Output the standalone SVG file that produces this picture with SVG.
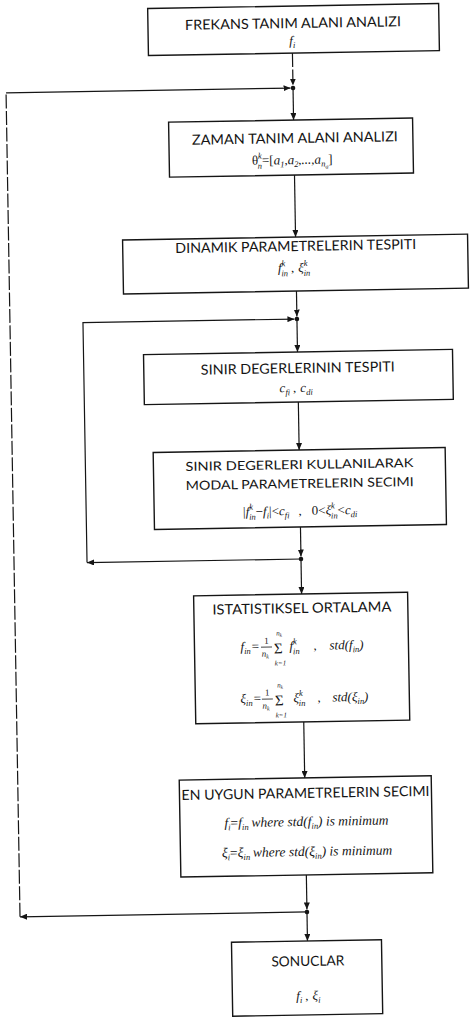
<svg xmlns="http://www.w3.org/2000/svg" width="470" height="1018" viewBox="0 0 470 1018">
<style>
.box{fill:#fff;stroke:#151515;stroke-width:1.4}
.t{font-family:Lato,"Liberation Sans",sans-serif;font-size:14px;fill:#151515;text-anchor:middle}
.t2{font-size:12.5px}
.m{font-family:"Liberation Serif",serif;font-style:italic;font-size:13px;fill:#151515}
.c{text-anchor:middle}
.s{font-size:8.5px}
.ss{font-size:6px}
.u{font-style:normal}
.ln{fill:none;stroke:#151515;stroke-width:1.2}
.dash{stroke-dasharray:14 2.5}
.dot{fill:#151515}
.bar{stroke:#151515;stroke-width:0.8}
</style>
<defs>
<marker id="ah" viewBox="0 0 7 6" refX="7" refY="3" markerWidth="7" markerHeight="6" markerUnits="userSpaceOnUse" orient="auto"><path d="M0,0 L7,3 L0,6 z" fill="#151515"/></marker>
</defs>
<rect width="470" height="1018" fill="#fff"/>
<g transform="rotate(-0.97 300 500)">
<g id="connectors">
<path class="ln dash" d="M300,53 V85.5" marker-end="url(#ah)"/>
<path class="ln" d="M300,88 V120" marker-end="url(#ah)"/>
<path class="ln" d="M300,175 V237" marker-end="url(#ah)"/>
<path class="ln" d="M300,291 V316.5" marker-end="url(#ah)"/>
<path class="ln" d="M300,319 V352" marker-end="url(#ah)"/>
<path class="ln" d="M300,402 V450" marker-end="url(#ah)"/>
<path class="ln" d="M300,527 V556.5" marker-end="url(#ah)"/>
<path class="ln" d="M300,559 V594" marker-end="url(#ah)"/>
<path class="ln" d="M300,722 V778" marker-end="url(#ah)"/>
<path class="ln" d="M300,875 V909.5" marker-end="url(#ah)"/>
<path class="ln" d="M300,912 V941" marker-end="url(#ah)"/>
<path class="ln" d="M300,912 H13" marker-end="url(#ah)"/>
<path class="ln dash" d="M13,912 V88"/>
<path class="ln" d="M13,88 H297.5" marker-end="url(#ah)"/>
<path class="ln" d="M300,559 H86" marker-end="url(#ah)"/>
<path class="ln" d="M86,559 V319 H297.5" marker-end="url(#ah)"/>
<circle class="dot" cx="300" cy="88" r="2.3"/>
<circle class="dot" cx="300" cy="319" r="2.3"/>
<circle class="dot" cx="300" cy="559" r="2.3"/>
<circle class="dot" cx="300" cy="912" r="2.3"/>
</g>
<g id="n1">
<rect class="box" x="156" y="6" width="291" height="47"/>
<text class="t" x="301" y="28" textLength="216" lengthAdjust="spacingAndGlyphs">FREKANS TANIM ALANI ANALIZI</text>
<text class="m c" x="300" y="45">f<tspan class="s" dy="3">i</tspan></text>
</g>
<g id="n2">
<rect class="box" x="175" y="120" width="244" height="55"/>
<text class="t" x="301" y="143" textLength="206" lengthAdjust="spacingAndGlyphs">ZAMAN TANIM ALANI ANALIZI</text>
<text class="m c" x="298" y="164"><tspan class="u">θ</tspan><tspan class="s" dy="-6">k</tspan><tspan class="s" dx="-4.2" dy="10">n</tspan><tspan class="u" dy="-4">=[</tspan>a<tspan class="s" dy="3">1</tspan><tspan dy="-3">,</tspan>a<tspan class="s" dy="3">2</tspan><tspan dy="-3">,...,</tspan>a<tspan class="s" dy="3">n</tspan><tspan class="ss" dy="2">a</tspan><tspan class="u" dy="-5">]</tspan></text>
</g>
<g id="n3">
<rect class="box" x="127" y="237" width="345" height="54"/>
<text class="t" x="300" y="251" textLength="241" lengthAdjust="spacingAndGlyphs">DINAMIK PARAMETRELERIN TESPITI</text>
<text class="m c" x="298" y="272">f<tspan class="s" dy="-6">k</tspan><tspan class="s" dx="-4" dy="10">in</tspan><tspan class="u" dy="-4" dx="3">,</tspan><tspan dx="4">ξ</tspan><tspan class="s" dy="-6">k</tspan><tspan class="s" dx="-4" dy="10">in</tspan></text>
</g>
<g id="n4">
<rect class="box" x="146" y="352" width="309" height="50"/>
<text class="t" x="300" y="373" textLength="194" lengthAdjust="spacingAndGlyphs">SINIR DEGERLERININ TESPITI</text>
<text class="m c" x="298" y="392">c<tspan class="s" dy="3">fi</tspan><tspan class="u" dy="-3" dx="3">,</tspan><tspan dx="4">c</tspan><tspan class="s" dy="3">di</tspan></text>
</g>
<g id="n5">
<rect class="box" x="154" y="450" width="292" height="77"/>
<text class="t t2" x="300" y="469" textLength="228" lengthAdjust="spacingAndGlyphs">SINIR DEGERLERI KULLANILARAK</text>
<text class="t t2" x="300" y="488" textLength="228" lengthAdjust="spacingAndGlyphs">MODAL PARAMETRELERIN SECIMI</text>
<text class="m c" x="300" y="515"><tspan class="u">|</tspan>f<tspan class="s" dy="-6">k</tspan><tspan class="s" dx="-4" dy="10">in</tspan><tspan class="u" dy="-4">−</tspan>f<tspan class="s" dy="3">i</tspan><tspan class="u" dy="-3">|&lt;</tspan>c<tspan class="s" dy="3">fi</tspan><tspan class="u" dy="-3" dx="9">,</tspan><tspan class="u" dx="10">0&lt;</tspan>ξ<tspan class="s" dy="-6">k</tspan><tspan class="s" dx="-4" dy="10">in</tspan><tspan class="u" dy="-4">&lt;</tspan>c<tspan class="s" dy="3">di</tspan></text>
</g>
<g id="n6">
<rect class="box" x="192" y="594" width="214" height="128"/>
<text class="t" x="300" y="613" textLength="179" lengthAdjust="spacingAndGlyphs">ISTATISTIKSEL ORTALAMA</text>
<text class="m" x="238" y="650">f<tspan class="s" dy="3">in</tspan><tspan class="u" dy="-3" dx="1">=</tspan></text>
<text class="m u c" x="264" y="643" style="font-size:9px">1</text>
<line class="bar" x1="258.5" y1="646.5" x2="269.5" y2="646.5"/>
<text class="m" x="259" y="656" style="font-size:9px">n<tspan class="ss" dy="2">k</tspan></text>
<text class="m u" x="271.5" y="653" style="font-size:15px">Σ</text>
<text class="m" x="274" y="635" style="font-size:7px">n<tspan style="font-size:5px" dy="1.5">k</tspan></text>
<text class="m" x="272" y="665" style="font-size:7px">k=1</text>
<text class="m" x="287" y="650">f<tspan class="s" dy="-6">k</tspan><tspan class="s" dx="-4" dy="10">in</tspan></text>
<text class="m u" x="311" y="650">,</text>
<text class="m" x="327" y="650">std(f<tspan class="s" dy="3">in</tspan><tspan dy="-3">)</tspan></text>
<text class="m" x="237" y="702">ξ<tspan class="s" dy="3">in</tspan><tspan class="u" dy="-3" dx="1">=</tspan></text>
<text class="m u c" x="264" y="695" style="font-size:9px">1</text>
<line class="bar" x1="258.5" y1="698.5" x2="269.5" y2="698.5"/>
<text class="m" x="259" y="708" style="font-size:9px">n<tspan class="ss" dy="2">k</tspan></text>
<text class="m u" x="271.5" y="705" style="font-size:15px">Σ</text>
<text class="m" x="274" y="687" style="font-size:7px">n<tspan style="font-size:5px" dy="1.5">k</tspan></text>
<text class="m" x="272" y="717" style="font-size:7px">k=1</text>
<text class="m" x="290" y="702">ξ<tspan class="s" dy="-6">k</tspan><tspan class="s" dx="-4" dy="10">in</tspan></text>
<text class="m u" x="314" y="702">,</text>
<text class="m" x="329" y="702">std(ξ<tspan class="s" dy="3">in</tspan><tspan dy="-3">)</tspan></text>
</g>
<g id="n7">
<rect class="box" x="174.5" y="778" width="252" height="97"/>
<text class="t" x="300.5" y="798" textLength="248" lengthAdjust="spacingAndGlyphs">EN UYGUN PARAMETRELERIN SECIMI</text>
<text class="m c" x="301" y="826" style="font-size:13.5px">f<tspan class="s" dy="3">i</tspan><tspan class="u" dy="-3">=</tspan>f<tspan class="s" dy="3">in</tspan><tspan dy="-3" dx="3">where std(f</tspan><tspan class="s" dy="3">in</tspan><tspan dy="-3">) is minimum</tspan></text>
<text class="m c" x="301" y="856" style="font-size:13.5px">ξ<tspan class="s" dy="3">i</tspan><tspan class="u" dy="-3">=</tspan>ξ<tspan class="s" dy="3">in</tspan><tspan dy="-3" dx="3">where std(ξ</tspan><tspan class="s" dy="3">in</tspan><tspan dy="-3">) is minimum</tspan></text>
</g>
<g id="n8">
<rect class="box" x="224" y="941" width="150" height="74"/>
<text class="t" x="300" y="966" textLength="73" lengthAdjust="spacingAndGlyphs">SONUCLAR</text>
<text class="m c" x="300" y="1000">f<tspan class="s" dy="3">i</tspan><tspan class="u" dy="-3" dx="3">,</tspan><tspan dx="4">ξ</tspan><tspan class="s" dy="3">i</tspan></text>
</g>
</g>
</svg>
